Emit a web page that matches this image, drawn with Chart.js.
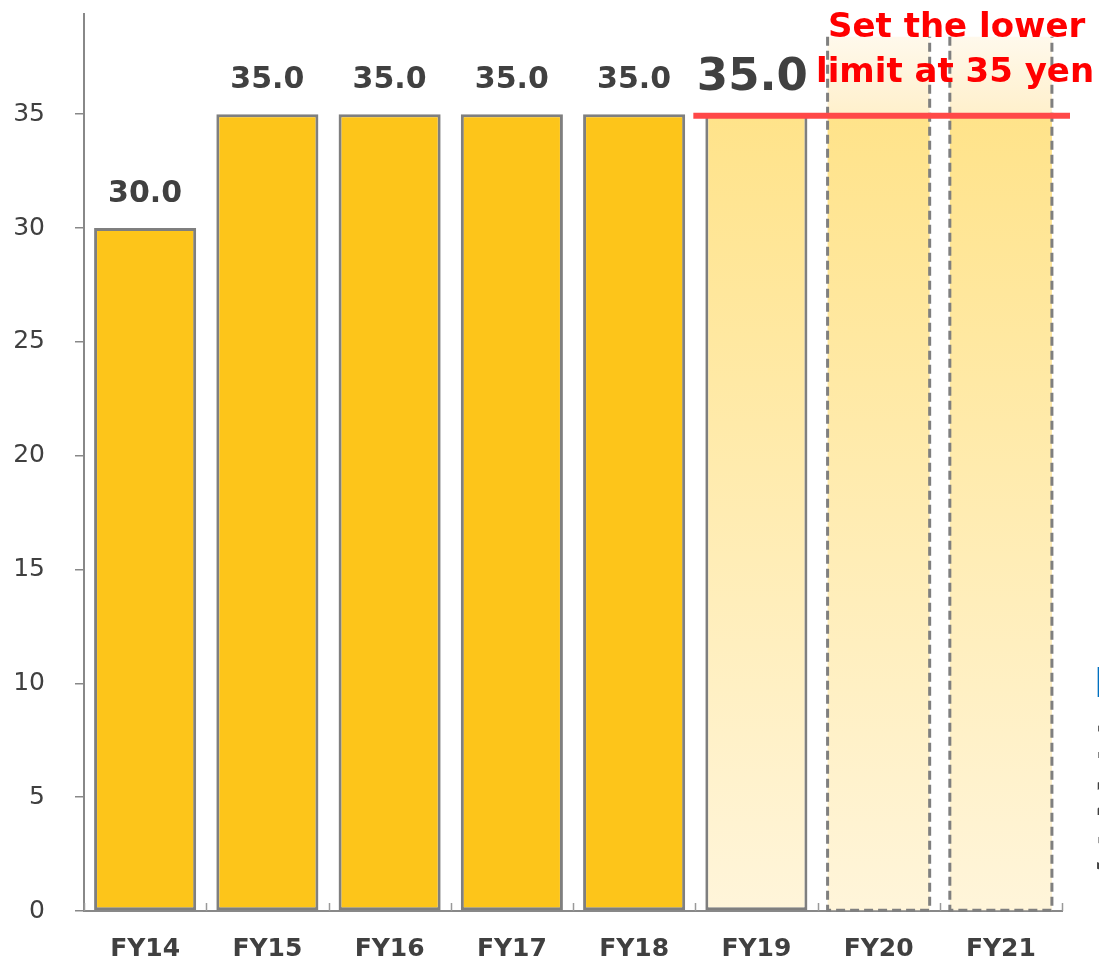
<!DOCTYPE html>
<html>
<head>
<meta charset="utf-8">
<script src="https://cdn.jsdelivr.net/npm/chart.js@4"></script>
<style>
  body { margin: 0; background: #fff; }
  canvas { display: block; }
</style>
</head>
<body>
<canvas id="divChart" width="1099" height="961"></canvas>
<script>
// dividend per share (yen)
const categories = ["FY14", "FY15", "FY16", "FY17", "FY18", "FY19", "FY20", "FY21"];
const dividends = [30, 35, 35, 35, 35, 35, null, null];
const outlookBars = [null, null, null, null, null, null, 38.4, 38.4];
const valueLabels = ["30.0", "35.0", "35.0", "35.0", "35.0", "35.0", "", ""];
const yTicks = [0, 5, 10, 15, 20, 25, 30, 35];
const lowerLimit = 35;
const noteLines = ["Set the lower", "limit at 35 yen"];

const YELLOW = "#FDC51A";
const GREY = "#7F7F7F";
const TEXT = "#404040";
const FONT = "'DejaVu Sans', Verdana, sans-serif";

function planFill(c) {
    const chart = c.chart;
    const y = chart.scales.y;
    if (!chart.chartArea || !y) return "#FFEBA8";
    const top = y.getPixelForValue(lowerLimit), bot = y.getPixelForValue(0);
    const g = chart.ctx.createLinearGradient(0, top, 0, bot);
    g.addColorStop(0, "#FFE38A");
    g.addColorStop(1, "#FFF5DA");
    return g;
}

function outlookFill(c) {
    const chart = c.chart;
    const y = chart.scales.y;
    if (!chart.chartArea || !y) return "#FFEBA8";
    const top = y.getPixelForValue(outlookBars[6]), bot = y.getPixelForValue(0);
    const mid = (y.getPixelForValue(lowerLimit) - top) / (bot - top);
    const g = chart.ctx.createLinearGradient(0, top, 0, bot);
    g.addColorStop(0, "#FFF9EC");
    g.addColorStop(mid - 0.001, "#FFF0CC");
    g.addColorStop(mid, "#FFE38A");
    g.addColorStop(1, "#FFF5DA");
    return g;
}

const extras = {
    id: "extras",
    afterDatasetsDraw(chart) {
        const ctx = chart.ctx;
        const area = chart.chartArea;
        const xs = chart.scales.x, ys = chart.scales.y;
        const actual = chart.getDatasetMeta(0).data;
        const outlook = chart.getDatasetMeta(1).data;

        // dashed outlines for outlook bars
        ctx.save();
        ctx.strokeStyle = GREY;
        ctx.lineWidth = 3;
        ctx.setLineDash([9, 5]);
        outlook.forEach((bar, i) => {
            if (outlookBars[i] == null) return;
            const l = bar.x - bar.width / 2, r = bar.x + bar.width / 2;
            ctx.beginPath();
            ctx.moveTo(l, bar.y);
            ctx.lineTo(l, bar.base);
            ctx.lineTo(r, bar.base);
            ctx.lineTo(r, bar.y);
            ctx.stroke();
        });
        ctx.restore();

        // small category ticks on the x axis
        ctx.save();
        ctx.strokeStyle = "#999";
        ctx.lineWidth = 1.5;
        const step = xs.getPixelForValue(1) - xs.getPixelForValue(0);
        for (let i = 0; i <= categories.length; i++) {
            const x = Math.round(xs.getPixelForValue(0) - step / 2 + i * step) + 0.5;
            ctx.beginPath();
            ctx.moveTo(x, area.bottom - 8);
            ctx.lineTo(x, area.bottom);
            ctx.stroke();
        }
        ctx.restore();

        // value labels
        ctx.save();
        ctx.fillStyle = TEXT;
        ctx.textAlign = "center";
        ctx.textBaseline = "middle";
        actual.forEach((bar, i) => {
            if (!valueLabels[i]) return;
            if (i === 5) {
                ctx.font = "bold 45px " + FONT;
                ctx.fillText(valueLabels[i], bar.x - 4, bar.y - 36);
            } else {
                ctx.font = "bold 30px " + FONT;
                ctx.fillText(valueLabels[i], bar.x, bar.y - 34);
            }
        });
        ctx.restore();

        // lower limit line
        const b19 = actual[5];
        const ly = ys.getPixelForValue(lowerLimit) + 1.5;
        ctx.save();
        ctx.strokeStyle = "#FF4848";
        ctx.lineWidth = 6;
        ctx.beginPath();
        ctx.moveTo(b19.x - b19.width / 2 - 12, ly);
        ctx.lineTo(area.right + 8, ly);
        ctx.stroke();

        // note text
        ctx.fillStyle = "#FF0000";
        ctx.font = "bold 34px " + FONT;
        ctx.textAlign = "left";
        ctx.textBaseline = "alphabetic";
        ctx.fillText(noteLines[0], 828, 37);
        ctx.fillText(noteLines[1], 816, 82);

        // cut-off side text at the right edge
        ctx.fillStyle = "#0070C0";
        ctx.font = "bold 40px " + FONT;
        ctx.fillText("B", 1094, 697);
        ctx.fillStyle = TEXT;
        ctx.font = "bold 46px " + FONT;
        ctx.fillText("1", 1093, 758);
        ctx.fillText("2", 1094, 815);
        ctx.fillText("3", 1094, 870);
        ctx.restore();
    }
};

new Chart(document.getElementById("divChart"), {
    type: "bar",
    data: {
        labels: categories,
        datasets: [{
            label: "Dividend",
            data: dividends,
            backgroundColor: (c) => c.dataIndex === 5 ? planFill(c) : YELLOW,
            borderColor: GREY,
            borderWidth: 3,
            borderSkipped: false,
            categoryPercentage: 1,
            barPercentage: 0.835
        }, {
            label: "Outlook",
            data: outlookBars,
            backgroundColor: outlookFill,
            borderWidth: 0,
            categoryPercentage: 1,
            barPercentage: 0.835
        }]
    },
    plugins: [extras],
    options: {
        responsive: false,
        animation: false,
        layout: { padding: { top: 14, right: 37, left: 0, bottom: 0 } },
        plugins: { legend: { display: false }, tooltip: { enabled: false } },
        scales: {
            x: {
                stacked: true,
                afterFit: (s) => { s.height = 50; s.paddingLeft = 0; s.paddingRight = 0; },
                grid: { display: true, drawOnChartArea: false, drawTicks: false },
                border: { color: "#888", width: 2 },
                ticks: { color: TEXT, font: { family: FONT, size: 25, weight: "bold" }, padding: 23 }
            },
            y: {
                min: 0,
                max: 39.4,
                afterFit: (s) => { s.width = 84; s.paddingTop = 0; s.paddingBottom = 0; },
                afterBuildTicks: (s) => { s.ticks = yTicks.map(v => ({ value: v })); },
                grid: { drawOnChartArea: false, tickLength: 9, color: "#888", lineWidth: 1.5 },
                border: { color: "#888", width: 2 },
                ticks: { color: TEXT, font: { family: FONT, size: 25 }, padding: 30 }
            }
        }
    }
});
</script>
</body>
</html>
